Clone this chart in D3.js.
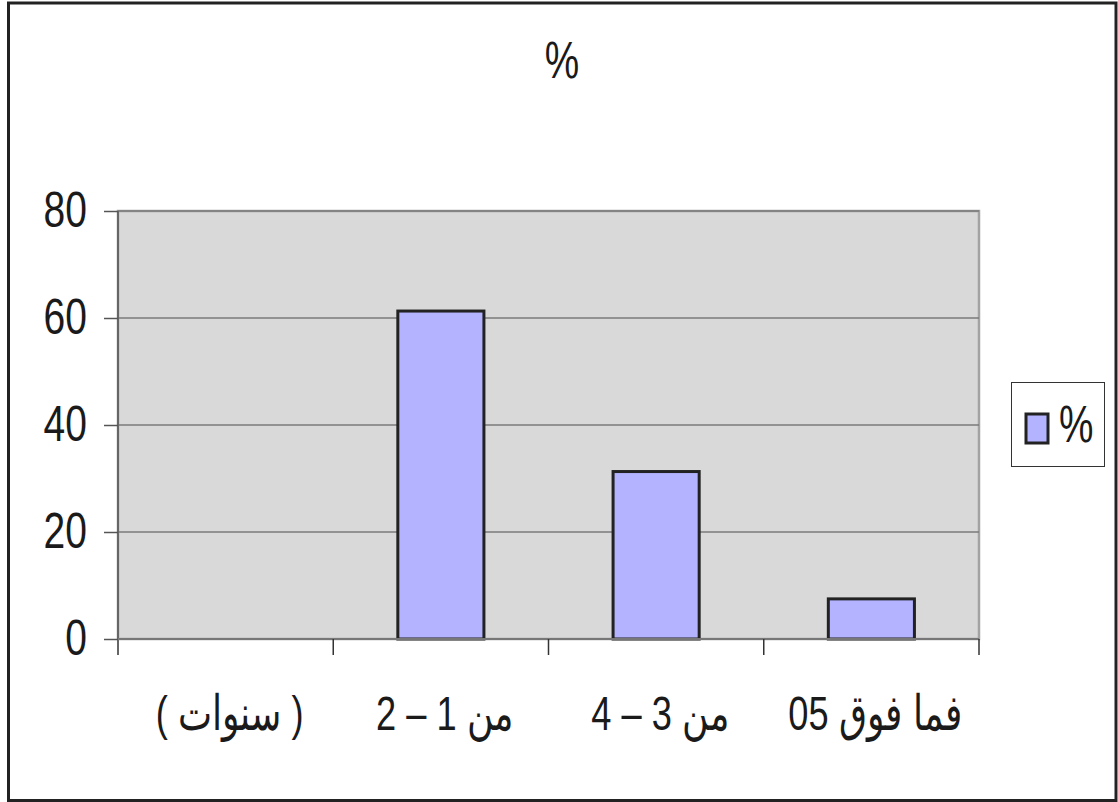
<!DOCTYPE html>
<html><head><meta charset="utf-8">
<script src="https://cdn.jsdelivr.net/npm/d3@7"></script>
<style>
html,body{margin:0;padding:0;background:#fff;}
svg{display:block;}
text{font-family:"Liberation Sans","Arial",sans-serif;fill:#1a1a1a;}
</style></head>
<body>
<script>
const categories = ["( سنوات )", "من 1 – 2", "من 3 – 4", "فما فوق 05"];
const values = [null, 61.3, 31.3, 7.5];
const yTicks = [0, 20, 40, 60, 80];
const seriesName = "%";
const titleText = "%";

const W = 1118, H = 802;
const svg = d3.select("body").append("svg").attr("width", W).attr("height", H);

function narrowText(parent, px, py, str, size, anchor, sx, rtl) {
  const t = parent.append("text")
    .attr("transform", `translate(${px},${py}) scale(${sx},1)`)
    .attr("x", 0).attr("y", 0)
    .attr("font-size", size)
    .attr("text-anchor", anchor || "start")
    .text(str);
  if (rtl) t.attr("direction", "rtl");
  return t;
}

// outer border
svg.append("rect").attr("x", 8.5).attr("y", 3).attr("width", 1107.5).attr("height", 797.5)
  .attr("fill", "#fff").attr("stroke", "#222").attr("stroke-width", 3);

const plot = {left: 118, right: 979, top: 211, bottom: 639};
const x = d3.scaleBand().domain(categories).range([plot.left, plot.right]).paddingInner(0).paddingOuter(0);
const y = d3.scaleLinear().domain([0, 80]).range([plot.bottom, plot.top]);

// plot area
svg.append("rect").attr("x", plot.left).attr("y", plot.top)
  .attr("width", plot.right - plot.left).attr("height", plot.bottom - plot.top)
  .attr("fill", "#d9d9d9").attr("stroke", "#a3a3a3").attr("stroke-width", 2.5);

// gridlines
svg.append("g").selectAll("line").data(yTicks.filter(d => d > 0)).join("line")
  .attr("x1", plot.left).attr("x2", plot.right)
  .attr("y1", d => y(d)).attr("y2", d => y(d))
  .attr("stroke", "#7a7a7a").attr("stroke-width", 1.6);

// bars
const data = categories.map((c, i) => ({c, v: values[i]})).filter(d => d.v != null);
const bw = x.bandwidth() / 2.5;
svg.append("g").selectAll("rect").data(data).join("rect")
  .attr("x", d => x(d.c) + (x.bandwidth() - bw) / 2)
  .attr("y", d => y(d.v))
  .attr("width", bw)
  .attr("height", d => y(0) - y(d.v))
  .attr("fill", "#b3b3ff").attr("stroke", "#222").attr("stroke-width", 3);

// y axis (ticks via d3 axis, labels drawn narrow)
const yAxis = d3.axisLeft(y).tickValues(yTicks).tickSize(14).tickFormat("").tickSizeOuter(0);
const gy = svg.append("g").attr("transform", `translate(${plot.left},0)`).call(yAxis);
gy.select(".domain").attr("stroke", "#666").attr("stroke-width", 2)
  .attr("d", `M0,${plot.top}V${plot.bottom + 16}`);
gy.selectAll(".tick line").attr("stroke", "#555").attr("stroke-width", 1.5);
const gyl = svg.append("g");
yTicks.forEach(v => narrowText(gyl, 87, y(v) + 16, String(v), 50, "end", 0.78));

// x axis line
svg.append("line").attr("x1", plot.left).attr("x2", plot.right)
  .attr("y1", plot.bottom).attr("y2", plot.bottom)
  .attr("stroke", "#777").attr("stroke-width", 2);

// x ticks at band boundaries
const bounds = categories.map(c => x(c)).concat([x(categories[categories.length - 1]) + x.bandwidth()]);
svg.append("g").selectAll("line").data(bounds.slice(1)).join("line")
  .attr("x1", d => d).attr("x2", d => d)
  .attr("y1", plot.bottom).attr("y2", plot.bottom + 16)
  .attr("stroke", "#333").attr("stroke-width", 1.5);

// category labels
const gxl = svg.append("g");
categories.forEach(c => narrowText(gxl, x(c) + x.bandwidth() / 2 + 4, 730, c, 49, "middle", 0.74, true));

// title
narrowText(svg, 562, 78, titleText, 51, "middle", 0.76);

// legend
const lg = svg.append("g");
lg.append("rect").attr("x", 1011.5).attr("y", 382.5).attr("width", 93).attr("height", 84)
  .attr("fill", "#fff").attr("stroke", "#333").attr("stroke-width", 1);
lg.append("rect").attr("x", 1026).attr("y", 414).attr("width", 22).attr("height", 29)
  .attr("fill", "#b3b3ff").attr("stroke", "#222").attr("stroke-width", 3);
narrowText(lg, 1059, 442, seriesName, 51, "start", 0.76);
</script>
</body></html>
